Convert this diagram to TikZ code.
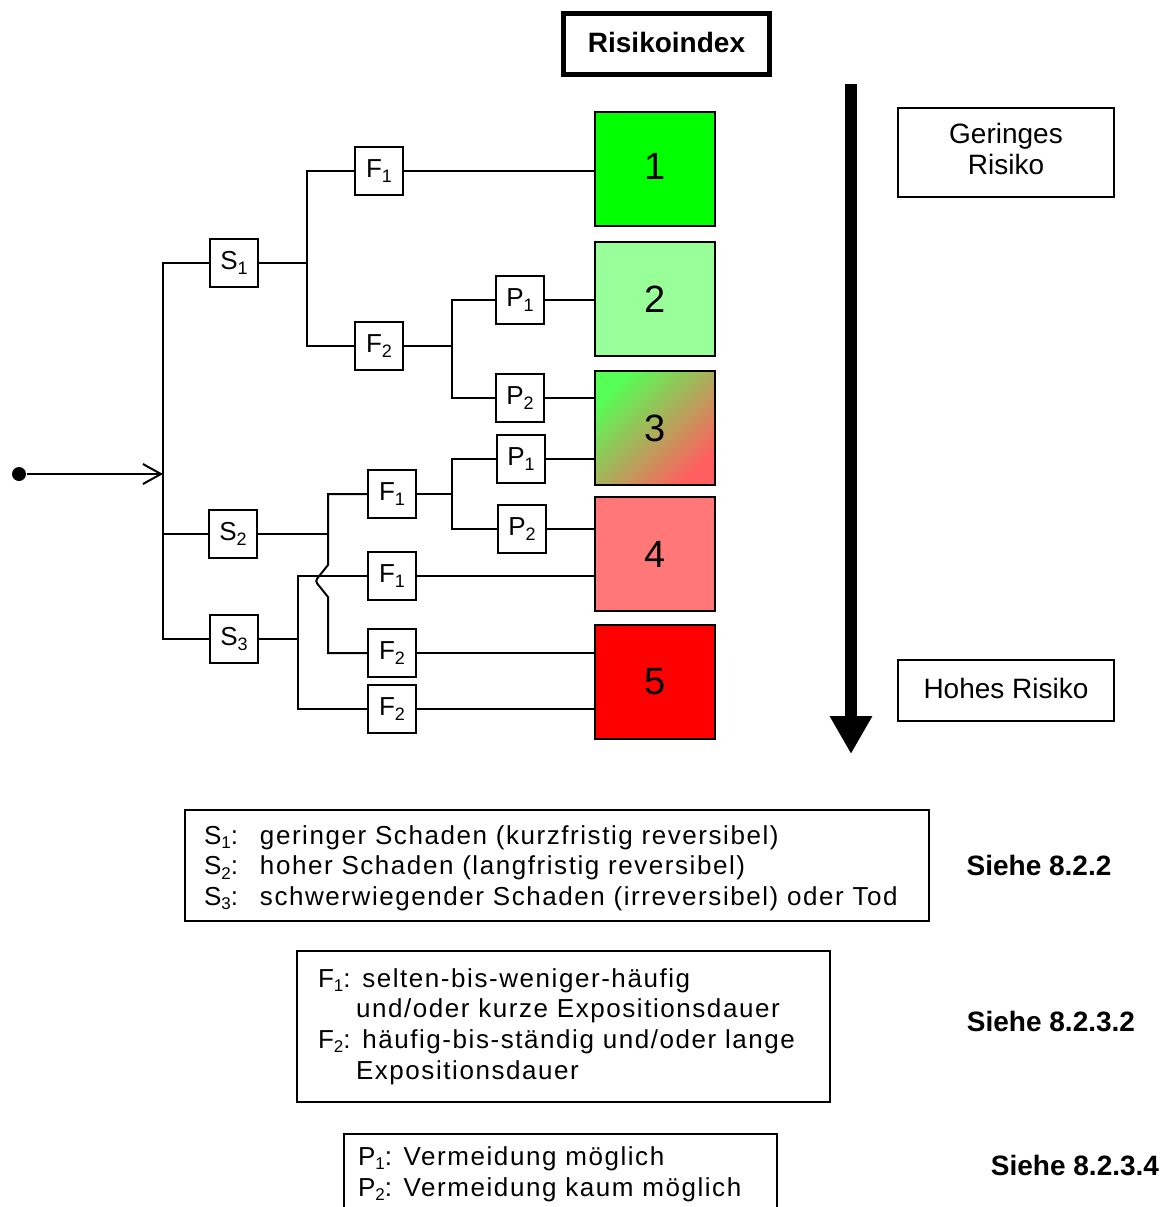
\documentclass[tikz,border=0pt]{standalone}
\usepackage{fontspec}
\setmainfont{Liberation Sans}
\newfontfamily\trackfont[LetterSpace=6]{Liberation Sans}
\usetikzlibrary{arrows.meta}
\definecolor{c1}{HTML}{00FF00}
\definecolor{c2}{HTML}{99FF99}
\definecolor{c3a}{HTML}{55FF55}
\definecolor{c3b}{HTML}{FF5F5F}
\definecolor{c4}{HTML}{FF7777}
\definecolor{c5}{HTML}{FF0000}
\newcommand\lsub[1]{\raisebox{-2.6pt}{\fontsize{9}{10}\selectfont #1}}
\newcommand\tsub[1]{\raisebox{-2.2pt}{\fontsize{8.5}{10}\selectfont #1}}
\begin{document}
\begin{tikzpicture}[x=0.5pt,y=-0.5pt,line width=1pt,
  every node/.style={font=\fontsize{14}{15.5}\selectfont},
  sbox/.style={draw,minimum width=24pt,minimum height=24pt,inner sep=0pt,fill=white,font=\fontsize{13}{15}\selectfont},
  rbox/.style={draw,minimum width=60pt,minimum height=57pt,inner sep=0pt,font=\fontsize{19}{22}\selectfont},
  tbox/.style={draw,inner sep=0pt},
  boldlabel/.style={font=\fontsize{14}{16}\selectfont\bfseries},
  legend/.style={anchor=west,inner sep=0pt,align=left,font=\fontsize{13}{15.35}\trackfont}]
\useasboundingbox (0,0) rectangle (1169,1207);

% header
\node[draw,line width=2.4pt,minimum width=103pt,minimum height=30.6pt,inner sep=0pt,boldlabel] (ri) at (666.5,44) {\raisebox{2pt}{Risikoindex}};

% risk boxes
\node[rbox,fill=c1] (r1) at (655,169) {\raisebox{3pt}{1}};
\node[rbox,fill=c2] (r2) at (655,299) {2};
\node[rbox,top color=c3a,bottom color=c3b,shading angle=45] (r3) at (655,428) {3};
\node[rbox,fill=c4] (r4) at (655,554) {4};
\node[rbox,fill=c5] (r5) at (655,682) {5};

% decision boxes
\node[sbox] (S1) at (234,263) {S\lsub{1}};
\node[sbox] (S2) at (233,534) {S\lsub{2}};
\node[sbox] (S3) at (234,639) {S\lsub{3}};
\node[sbox] (F1a) at (379,171) {F\lsub{1}};
\node[sbox] (F2a) at (379,346) {F\lsub{2}};
\node[sbox] (P1a) at (520,300) {P\lsub{1}};
\node[sbox] (P2a) at (520,398) {P\lsub{2}};
\node[sbox] (F1b) at (392,494) {F\lsub{1}};
\node[sbox] (P1b) at (521,459) {P\lsub{1}};
\node[sbox] (P2b) at (522,529) {P\lsub{2}};
\node[sbox] (F1c) at (392,576) {F\lsub{1}};
\node[sbox] (F2b) at (392,653) {F\lsub{2}};
\node[sbox] (F2c) at (392,709) {F\lsub{2}};

% junction coordinates
\coordinate (busT) at (163,263);
\coordinate (busB) at (163,639);
\coordinate (jS1) at (307,263);
\coordinate (jF2a) at (452,346);
\coordinate (jS2) at (328,534);
\coordinate (bumpT) at (328,565);
\coordinate (bumpB) at (328,597);
\coordinate (jF1b) at (452,494);
\coordinate (jS3) at (298,639);

% start
\node[circle,fill,inner sep=0pt,minimum size=7pt] (st) at (19,474) {};
\draw[-{Straight Barb[length=9pt,width=10pt]}] (st) -- (st -| busT);

% bus
\draw (S1) -| (busT) -- (busB) -- (S3);
\draw (S2) -- (S2 -| busT);

% S1 branch
\draw (S1) -- (jS1);
\draw (F1a) -| (jS1) |- (F2a);
\draw (F1a) -- (F1a -| r1.west);
\draw (F2a) -- (jF2a);
\draw (P1a) -| (jF2a) |- (P2a);
\draw (P1a) -- (P1a -| r2.west);
\draw (P2a) -- (P2a -| r3.west);

% S2 branch
\draw (S2) -- (jS2);
\draw (F1b) -| (bumpT) -- ++(-8,10) .. controls ++(-5,6) and ++(-5,-6) .. ++(0,12) -- (bumpB) |- (F2b);
\draw (F1b) -- (jF1b);
\draw (P1b) -| (jF1b) |- (P2b);
\draw (P1b) -- (P1b -| r3.west);
\draw (P2b) -- (P2b -| r4.west);
\draw (F2b) -- (F2b -| r5.west);

% S3 branch
\draw (S3) -- (jS3);
\draw (F1c) -| (jS3) |- (F2c);
\draw (F1c) -- (F1c -| r4.west);
\draw (F2c) -- (F2c -| r5.west);

% big arrow
\coordinate (aT) at (851,84);
\coordinate (aB) at (851,754);
\draw[line width=6pt,-{Triangle[length=19pt,width=20pt]}] (aT) -- (aB);

% right labels
\node[tbox,minimum width=108pt,minimum height=44.5pt,align=center] (gr) at (1006,152.5) {Geringes\\Risiko\rule[-4pt]{0pt}{0pt}};
\node[tbox,minimum width=108pt,minimum height=30.5pt] (hr) at (1006,690.5) {\raisebox{2pt}{Hohes Risiko}};

% legends
\node[tbox,minimum width=372pt,minimum height=55.5pt] (sb) at (557,865.5) {};
\node[legend] (stext) at (203,868) {\makebox[28pt][l]{S\tsub{1}:}geringer Schaden (kurzfristig reversibel)\\
\makebox[28pt][l]{S\tsub{2}:}hoher Schaden (langfristig reversibel)\\
\makebox[28pt][l]{S\tsub{3}:}schwerwiegender Schaden (irreversibel) oder Tod};
\node[boldlabel] (sref) at (1039,865) {Siehe 8.2.2};

\node[tbox,minimum width=266.5pt,minimum height=75.5pt] (fb) at (563.5,1026.5) {};
\node[legend] (ftext) at (317,1026.5) {F\tsub{1}: selten-bis-weniger-häufig\\
\hspace*{19pt}und/oder kurze Expositionsdauer\\
F\tsub{2}: häufig-bis-ständig und/oder lange\\
\hspace*{19pt}Expositionsdauer};
\node[boldlabel] (fref) at (1051,1021) {Siehe 8.2.3.2};

\node[tbox,minimum width=216.5pt,minimum height=42pt] (pb) at (560.5,1176) {};
\node[legend] (ptext) at (357,1174) {P\tsub{1}: Vermeidung möglich\\
P\tsub{2}: Vermeidung kaum möglich};
\node[boldlabel] (pref) at (1075,1165) {Siehe 8.2.3.4};
\end{tikzpicture}
\end{document}
